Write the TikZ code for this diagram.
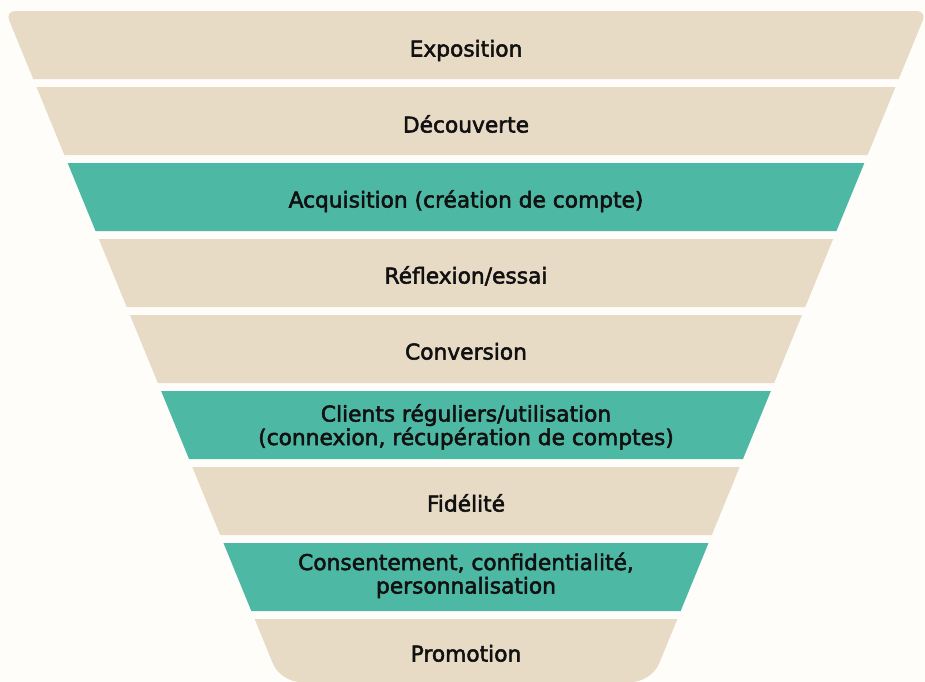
\documentclass[tikz,border=0pt]{standalone}
\usepackage{fontspec}
\newfontfamily\labelfont{DejaVu Sans}[RawFeature={embolden=2.4}]
\definecolor{paper}{HTML}{FEFDF9}
\definecolor{sand}{HTML}{E8DBC6}
\definecolor{teal}{HTML}{4DB8A4}
\definecolor{ink}{HTML}{111111}
\tikzset{
  bandlabel/.style={font=\labelfont\fontsize{16.3pt}{17.6pt}\selectfont,
    text=ink, align=center, inner sep=0pt, anchor=base},
}
% half width of the funnel at height y (pixel units, y grows downwards)
\newcommand\funnelhalf[1]{429.5+0.41*(87-(#1))}
\begin{document}
\begin{tikzpicture}[x=0.75pt,y=-0.75pt]
\fill[paper] (0,0) rectangle (925,682);
\useasboundingbox (0,0) rectangle (925,682);

% top band: rounded upper corners
\pgfmathsetmacro\wt{\funnelhalf{11}}
\pgfmathsetmacro\wb{\funnelhalf{79}}
\fill[sand] ({466-\wb},79) [rounded corners=7.5pt] -- ({466-\wt},11)
  -- ({466+\wt},11) [sharp corners] -- ({466+\wb},79) -- cycle;

% middle bands
\foreach \t/\c in {87/sand,163/teal,239/sand,315/sand,391/teal,467/sand,543/teal}{
  \pgfmathsetmacro\wt{\funnelhalf{\t}}
  \pgfmathsetmacro\wb{\funnelhalf{\t+68}}
  \fill[\c] ({466-\wt},\t) -- ({466+\wt},\t) -- ({466+\wb},\t+68)
    -- ({466-\wb},\t+68) -- cycle;
}

% bottom band: rounded lower corners
\pgfmathsetmacro\wt{\funnelhalf{619}}
\pgfmathsetmacro\wb{\funnelhalf{682}}
\fill[sand] ({466-\wt},619) [rounded corners=15pt] -- ({466-\wb},682)
  -- ({466+\wb},682) [sharp corners] -- ({466+\wt},619) -- cycle;

% labels (two-line labels are placed by the baseline of their last line)
\node[bandlabel] (exposition) at (466,56.5) {Exposition};
\node[bandlabel] (decouverte) at (466,132.5) {Découverte};
\node[bandlabel] (acquisition) at (466,207.5) {Acquisition (création de compte)};
\node[bandlabel] (reflexion) at (466,283.5) {Réflexion/essai};
\node[bandlabel] (conversion) at (466,359.5) {Conversion};
\node[bandlabel] (clients) at (466,445) {Clients réguliers/utilisation\\(connexion, récupération de comptes)};
\node[bandlabel] (fidelite) at (466,511.5) {Fidélité};
\node[bandlabel] (consentement) at (466,593.5) {Consentement, confidentialité,\\personnalisation};
\node[bandlabel] (promotion) at (466,661.5) {Promotion};
\end{tikzpicture}
\end{document}
